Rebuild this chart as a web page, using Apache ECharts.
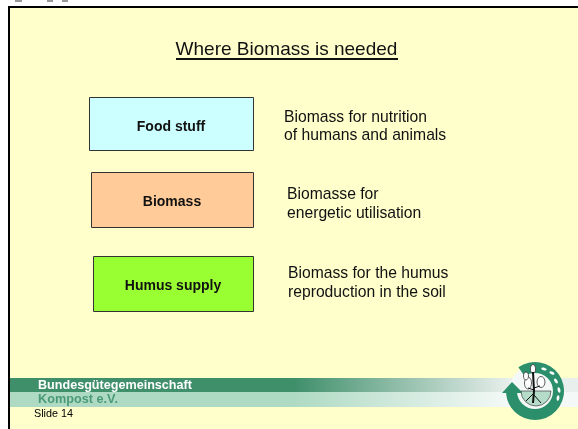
<!DOCTYPE html>
<html><head><meta charset="utf-8">
<style>html,body{margin:0;padding:0;background:#fff}#c{width:578px;height:429px}</style>
<script src="https://cdn.jsdelivr.net/npm/echarts@6/dist/echarts.min.js"></script>
</head><body><div id="c"></div>
<script>
const titleText = 'Where Biomass is needed';
const boxLabels = ['Food stuff', 'Biomass', 'Humus supply'];
const boxColors = ['#CCFFFF', '#FFCC99', '#99FF33'];
const descriptions = ['Biomass for nutrition\nof humans and animals', 'Biomasse for\nenergetic utilisation', 'Biomass for the humus\nreproduction in the soil'];
const orgLine1 = 'Bundesgütegemeinschaft';
const orgLine2 = 'Kompost e.V.';
const slideLabel = 'Slide 14';

const F = 'Liberation Sans, Arial, sans-serif';
const boxGeo = [[89.5,97.5,164,53,3],[91.5,172.5,162,55,2],[93.5,256.5,160,55,2]];
const descPos = [[284,108.3],[287,185.5],[288,264.7]];
const g = [];
const G='#2B8F6C';
g.push({type:'rect',shape:{x:9,y:7,width:572,height:425},style:{fill:'#FFFFCC',stroke:'#000',lineWidth:2}});
[[15,7],[47,6],[62,6]].forEach(r=>g.push({type:'rect',shape:{x:r[0],y:0,width:r[1],height:2},style:{fill:'#999'}}));
g.push({type:'text',style:{x:286.5,y:50,text:titleText,font:'19px '+F,fill:'#111',align:'center',verticalAlign:'middle'}});
g.push({type:'rect',shape:{x:176,y:58,width:222,height:2},style:{fill:'#111'}});
boxLabels.forEach((t,i)=>{
  const b=boxGeo[i];
  g.push({type:'rect',shape:{x:b[0],y:b[1],width:b[2],height:b[3]},style:{fill:boxColors[i],stroke:'#333',lineWidth:1}});
  g.push({type:'text',style:{x:b[0]+b[2]/2-0.5,y:b[1]+b[3]/2+b[4],text:t,font:'bold 14px '+F,fill:'#111',align:'center',verticalAlign:'middle'}});
  g.push({type:'text',style:{x:descPos[i][0],y:descPos[i][1],text:descriptions[i],font:'15.7px '+F,fill:'#111',lineHeight:18.5,verticalAlign:'top'}});
});
const fade=(a,b)=>({type:'linear',x:0,y:0,x2:1,y2:0,colorStops:[{offset:0,color:a},{offset:0.5,color:a},{offset:0.88,color:b},{offset:1,color:b}]});
g.push({type:'rect',shape:{x:10,y:378,width:568,height:14},style:{fill:fade('#3F8F6B','#E8EFEC')}});
g.push({type:'rect',shape:{x:10,y:392,width:568,height:15},style:{fill:fade('#AEDAC3','#F4F9F7')}});
g.push({type:'text',style:{x:38,y:385.7,text:orgLine1,font:'bold 12.6px '+F,fill:'#fff',align:'left',verticalAlign:'middle'}});
g.push({type:'text',style:{x:38,y:399,text:orgLine2,font:'bold 12.7px '+F,fill:'#4A9A78',align:'left',verticalAlign:'middle'}});
g.push({type:'text',style:{x:34,y:414,text:slideLabel,font:'10.8px '+F,fill:'#000',align:'left',verticalAlign:'middle'}});
const cx=535,cy=391,R=29,r=18;
g.push({type:'circle',shape:{cx,cy,r:R-3},style:{fill:'#F4F9F7'}});
g.push({type:'sector',shape:{cx,cy,r0:r,r:R,startAngle:235*Math.PI/180,endAngle:180*Math.PI/180,clockwise:true},style:{fill:G}});
g.push({type:'polygon',shape:{points:[[502,393],[512,382],[523,393]]},style:{fill:G}});
g.push({type:'sector',shape:{cx:536,cy:391,r0:0,r:15,startAngle:0,endAngle:Math.PI},style:{fill:'#B5DCC8',stroke:'#222',lineWidth:0.6}});
[[528,383,3.5,6],[541,382,4,5.5],[533,369,2.6,4.5],[526,376,2.5,4]].forEach(e=>g.push({type:'ellipse',shape:{cx:e[0],cy:e[1],rx:e[2],ry:e[3]},style:{fill:'#fff',stroke:'#333',lineWidth:0.8}}));
g.push({type:'polyline',shape:{points:[[533,372],[534,391],[533,403]]},style:{stroke:'#111',lineWidth:2,fill:'none'}});
[[[534,393],[526,401]],[[534,395],[541,403]],[[534,390],[528,388]],[[534,388],[540,386]]].forEach(p=>g.push({type:'polyline',shape:{points:p},style:{stroke:'#111',lineWidth:1,fill:'none'}}));
[[544,369,0.3],[552,373,0.5],[556,381,1.0],[559,390,1.35],[558,398,1.7]].forEach(e=>g.push({type:'ellipse',x:e[0],y:e[1],rotation:-e[2],shape:{cx:0,cy:0,rx:2.8,ry:1.4},style:{fill:'#fff'}}));

const chart=echarts.init(document.getElementById('c'),null,{renderer:'canvas'});
chart.setOption({animation:false,graphic:{elements:g}});
</script></body></html>
